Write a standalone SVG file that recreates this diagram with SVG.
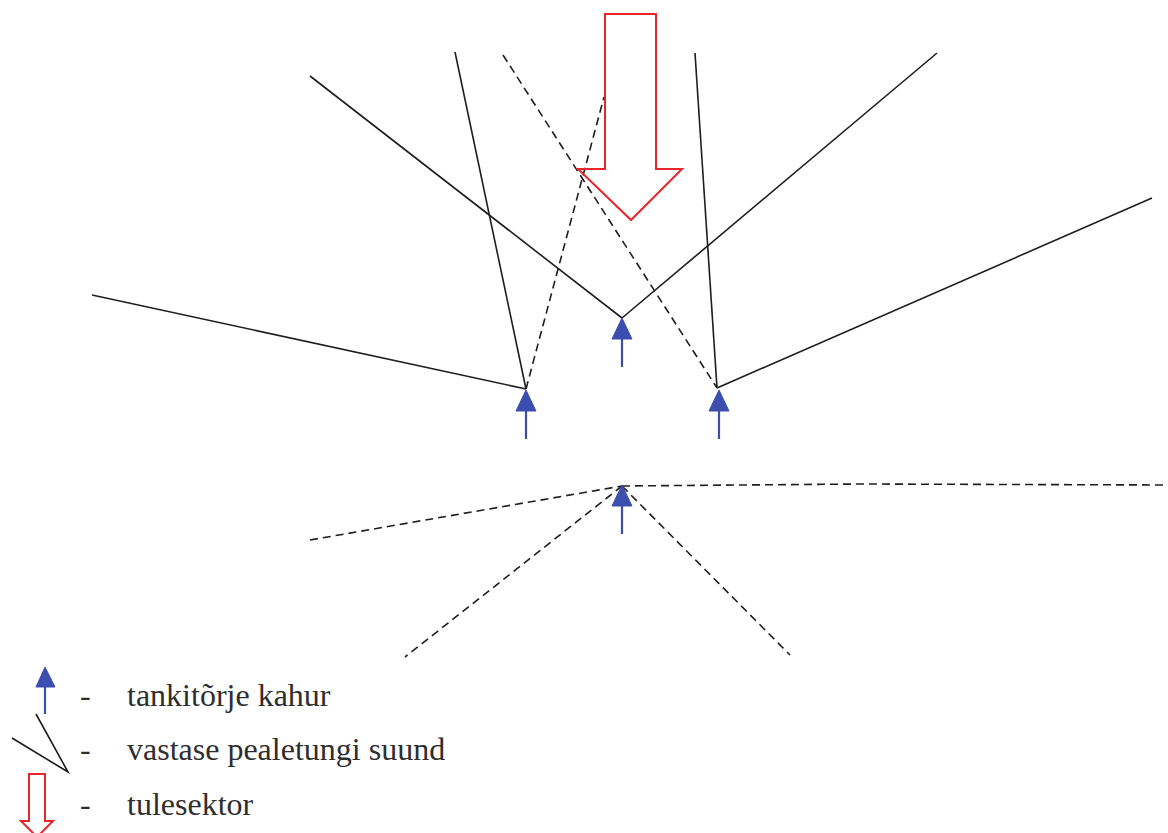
<svg xmlns="http://www.w3.org/2000/svg" width="1168" height="833" viewBox="0 0 1168 833">
  <style>
    .solid { stroke: #1e1e1e; stroke-width: 1.6; fill: none; }
    .dash { stroke: #1e1e1e; stroke-width: 1.6; fill: none; stroke-dasharray: 8 5; }
    .fire { stroke: #e8262c; stroke-width: 2; fill: none; stroke-linejoin: miter; }
    .gun-head { fill: #3d4fae; stroke: #3d4fae; stroke-width: 1; }
    .gun-shaft { stroke: #3d4fae; stroke-width: 2.2; }
    .label { font-family: "Liberation Serif", "Times New Roman", serif; font-size: 32px; fill: #2e2e2e; }
  </style>
  <defs>
    <!-- anti-tank gun symbol: apex at origin -->
    <g id="gun">
      <polygon class="gun-head" points="0,0 -10,21 10,21"/>
      <line class="gun-shaft" x1="0" y1="21" x2="0" y2="49"/>
    </g>
  </defs>
  <rect width="1168" height="833" fill="#ffffff"/>

  <!-- attack directions and sector lines -->
  <g id="connectors">
    <line class="solid" x1="92" y1="295" x2="526" y2="389"/>
    <line class="solid" x1="455" y1="52" x2="526" y2="389"/>
    <line class="dash" x1="526" y1="389" x2="604" y2="97"/>
    <line class="solid" x1="310" y1="76" x2="622" y2="318"/>
    <line class="solid" x1="622" y1="318" x2="937" y2="53"/>
    <line class="dash" x1="503" y1="55" x2="717" y2="388"/>
    <line class="solid" x1="695" y1="53" x2="717" y2="388"/>
    <line class="solid" x1="717" y1="388" x2="1152" y2="198"/>
    <line class="dash" x1="310" y1="540" x2="622" y2="486"/>
    <polyline class="dash" points="622,486 860,484 1168,485"/>
    <line class="dash" x1="622" y1="486" x2="405" y2="657"/>
    <line class="dash" x1="622" y1="486" x2="790" y2="655"/>
  </g>

  <!-- fire sector arrow -->
  <g id="fire-sector">
    <polygon class="fire" points="605,14 656,14 656,169 682,169 631,220 578,169 605,169"/>
  </g>

  <!-- guns -->
  <g id="gun-left"><use href="#gun" x="526" y="390"/></g>
  <g id="gun-center"><use href="#gun" x="622" y="318"/></g>
  <g id="gun-right"><use href="#gun" x="719" y="390"/></g>
  <g id="gun-rear"><use href="#gun" x="622" y="485"/></g>

  <!-- legend -->
  <g id="legend-gun">
    <polygon class="gun-head" points="45,667 36,687 55,687"/>
    <line class="gun-shaft" x1="45" y1="687" x2="45" y2="714"/>
    <text class="label" x="80" y="706">-</text>
    <text class="label" x="127" y="706">tankitõrje kahur</text>
  </g>
  <g id="legend-direction">
    <polyline class="solid" points="12,738 68,772 36,714"/>
    <text class="label" x="80" y="760">-</text>
    <text class="label" x="127" y="760">vastase pealetungi suund</text>
  </g>
  <g id="legend-sector">
    <polygon class="fire" points="29,774 45,774 45,821 53,821 37,837 21,821 29,821"/>
    <text class="label" x="80" y="815">-</text>
    <text class="label" x="127" y="815">tulesektor</text>
  </g>
</svg>
